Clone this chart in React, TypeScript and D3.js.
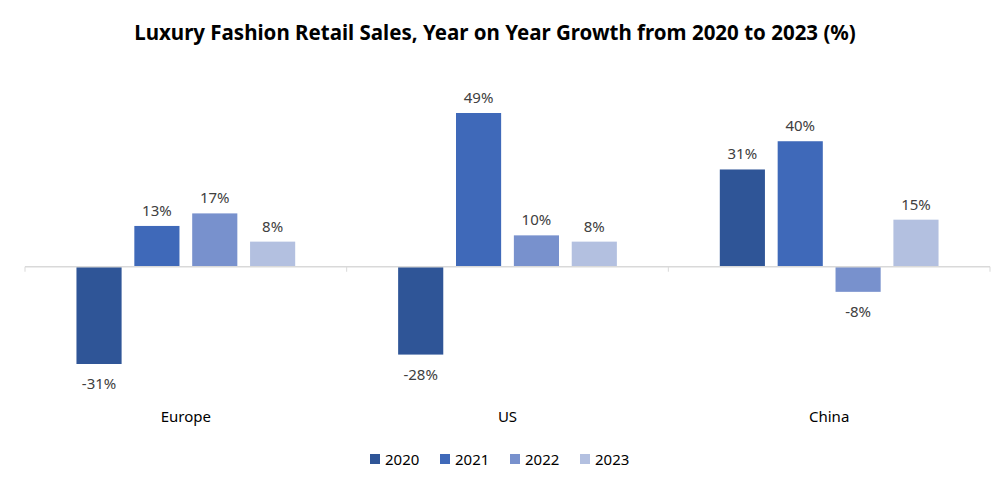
import * as d3 from 'd3';
import React, { useEffect, useRef } from 'react';

const regions = ['Europe', 'US', 'China'];
const years = ['2020', '2021', '2022', '2023'];
const growth2020 = [-31, -28, 31];
const growth2021 = [13, 49, 40];
const growth2022 = [17, 10, -8];
const growth2023 = [8, 8, 15];
const colors = ['#2F5597', '#3F69B9', '#7891CD', '#B3C0E0'];

const App: React.FC = () => {
  const ref = useRef<SVGSVGElement | null>(null);

  useEffect(() => {
    const width = 991;
    const height = 490;
    const series = [growth2020, growth2021, growth2022, growth2023];
    const font = "'Noto Sans', 'Open Sans', sans-serif";

    const svg = d3.select(ref.current)
      .attr('width', width)
      .attr('height', height);
    svg.selectAll('*').remove();

    svg.append('text')
      .attr('x', 495)
      .attr('y', 40)
      .attr('text-anchor', 'middle')
      .style('font-family', font)
      .style('font-size', '20.5px')
      .style('font-weight', 'bold')
      .attr('fill', '#000')
      .text('Luxury Fashion Retail Sales, Year on Year Growth from 2020 to 2023 (%)');

    const x0 = d3.scaleBand<string>()
      .domain(regions)
      .range([25, 990])
      .paddingInner(0)
      .paddingOuter(0);

    const x1 = d3.scaleBand<string>()
      .domain(years)
      .range([x0.bandwidth() * 0.16, x0.bandwidth() * 0.84])
      .paddingInner(0.22);

    const y = d3.scaleLinear()
      .domain([-31, 49])
      .range([364, 113]);

    const groups = svg.selectAll('g.region')
      .data(regions)
      .enter()
      .append('g')
      .attr('transform', (d) => `translate(${x0(d)},0)`);

    groups.each(function (_r, ri) {
      const g = d3.select(this);
      years.forEach((yr, si) => {
        const v = series[si][ri];
        g.append('rect')
          .attr('x', x1(yr)!)
          .attr('width', x1.bandwidth())
          .attr('y', y(Math.max(0, v)))
          .attr('height', Math.abs(y(v) - y(0)))
          .attr('fill', colors[si]);
        g.append('text')
          .attr('x', x1(yr)! + x1.bandwidth() / 2)
          .attr('y', v >= 0 ? y(v) - 10 : y(v) + 25)
          .attr('text-anchor', 'middle')
          .style('font-family', font)
          .style('font-size', '15px')
          .attr('fill', '#404040')
          .text(`${v}%`);
      });
    });

    // zero line with category ticks
    svg.append('line')
      .attr('x1', 25).attr('x2', 990)
      .attr('y1', y(0)).attr('y2', y(0))
      .attr('stroke', '#d9d9d9')
      .attr('stroke-width', 1.5);
    const boundaries = [...regions.map((r) => x0(r)!), 990];
    svg.selectAll('line.tick')
      .data(boundaries)
      .enter()
      .append('line')
      .attr('x1', (d) => d).attr('x2', (d) => d)
      .attr('y1', y(0)).attr('y2', y(0) + 5)
      .attr('stroke', '#d9d9d9')
      .attr('stroke-width', 1);

    svg.selectAll('text.cat')
      .data(regions)
      .enter()
      .append('text')
      .attr('x', (d) => x0(d)! + x0.bandwidth() / 2)
      .attr('y', 422)
      .attr('text-anchor', 'middle')
      .style('font-family', font)
      .style('font-size', '15px')
      .attr('fill', '#000')
      .text((d) => d);

    // legend
    const legendX = [370, 440, 510, 580];
    const legend = svg.selectAll('g.legend')
      .data(years)
      .enter()
      .append('g')
      .attr('transform', (_d, i) => `translate(${legendX[i]},460)`);
    legend.append('rect')
      .attr('x', 0).attr('y', -6)
      .attr('width', 10).attr('height', 10)
      .attr('fill', (_d, i) => colors[i]);
    legend.append('text')
      .attr('x', 15)
      .attr('y', 5)
      .style('font-family', font)
      .style('font-size', '15px')
      .attr('fill', '#000')
      .text((d) => d);
  }, []);

  return <svg ref={ref} style={{ position: 'absolute', left: 0, top: 0 }}></svg>;
};

export default App;
